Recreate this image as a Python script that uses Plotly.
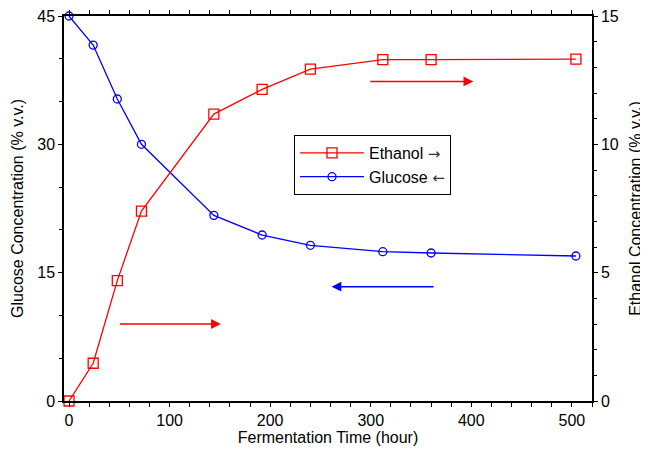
import plotly.graph_objects as go

time_h = [0, 24, 48, 72, 144, 192, 240, 312, 360, 504]
glucose = [45.0, 41.6, 35.3, 30.0, 21.7, 19.4, 18.2, 17.45, 17.3, 16.95]
ethanol = [0.0, 1.47, 4.69, 7.40, 11.18, 12.14, 12.93, 13.30, 13.30, 13.32]

x_ticks = [0, 100, 200, 300, 400, 500]
gl_ticks = [0, 15, 30, 45]
et_ticks = [0, 5, 10, 15]

FONT = "Liberation Sans, Arial, sans-serif"
ARW = "<span style='font-family:DejaVu Sans;font-size:15px;color:#333'>{}</span>"

fig = go.Figure()
fig.add_trace(go.Scatter(
    x=time_h, y=ethanol, name="Ethanol " + ARW.format("\u2192"), yaxis="y2",
    mode="lines+markers",
    line=dict(color="#ff0000", width=1.3),
    marker=dict(symbol="square-open", size=10, color="#ff0000", line=dict(width=1.3)),
    cliponaxis=False))
fig.add_trace(go.Scatter(
    x=time_h, y=glucose, name="Glucose " + ARW.format("\u2190"), yaxis="y",
    mode="lines+markers",
    line=dict(color="#0000ff", width=1.3),
    marker=dict(symbol="circle-open", size=8, color="#0000ff", line=dict(width=1.3)),
    cliponaxis=False))

# direction arrows
arrows = [
    dict(x=151, y=3.0, ax=49, ay=3.0, xref="x", yref="y2", axref="x", ayref="y2", color="#ff0000"),
    dict(x=402, y=12.45, ax=298, ay=12.45, xref="x", yref="y2", axref="x", ayref="y2", color="#ff0000"),
    dict(x=261, y=13.36, ax=364, ay=13.36, xref="x", yref="y", axref="x", ayref="y", color="#0000ff"),
]
anns = []
for a in arrows:
    anns.append(dict(x=a["x"], y=a["y"], ax=a["ax"], ay=a["ay"], xref=a["xref"], yref=a["yref"],
                     axref=a["axref"], ayref=a["ayref"], showarrow=True, arrowhead=2,
                     arrowsize=1.4, arrowwidth=1.4, arrowcolor=a["color"], text=""))

axis_common = dict(showline=True, linecolor="black", linewidth=1.5, ticks="outside",
                   ticklen=4, tickwidth=1, tickcolor="black", showgrid=False, zeroline=False,
                   automargin=False, ticklabeloverflow="allow",
                   tickfont=dict(family=FONT, size=16, color="black"))

# page body has an 8px margin, so the figure is 640x445 placed at (8, 8)
fig.update_layout(
    width=640, height=445,
    margin=dict(l=56, r=56, t=8, b=52),
    paper_bgcolor="white", plot_bgcolor="white",
    font=dict(family=FONT, size=16, color="black"),
    annotations=anns,
    showlegend=True,
    legend=dict(x=0.4356, y=0.691, xanchor="left", yanchor="top",
                bordercolor="black", borderwidth=1, bgcolor="white",
                font=dict(family=FONT, size=16, color="black"),
                itemwidth=64, tracegroupgap=0),
    xaxis=dict(range=[-5, 520], tickvals=x_ticks, mirror="allticks",
               title=dict(text="Fermentation Time (hour)", font=dict(family=FONT, size=16), standoff=4),
               minor=dict(dtick=20, ticklen=3, ticks="outside", tickcolor="black"),
               **axis_common),
    yaxis=dict(range=[0, 45], tickvals=gl_ticks,
               title=dict(text="Glucose Concentration (% v.v.)", font=dict(family=FONT, size=16), standoff=10),
               minor=dict(dtick=5, ticklen=3, ticks="outside", tickcolor="black"),
               **axis_common),
    yaxis2=dict(range=[0, 15], tickvals=et_ticks, overlaying="y", side="right",
                title=dict(text="Ethanol Concentration (% v.v.)", font=dict(family=FONT, size=16), standoff=12),
                minor=dict(dtick=1, ticklen=3, ticks="outside", tickcolor="black"),
                **axis_common),
)

fig.write_html("out.html")
